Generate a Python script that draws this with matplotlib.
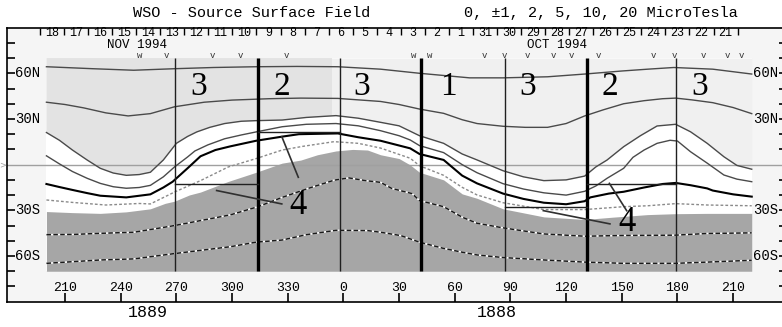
import numpy as np
import matplotlib
matplotlib.use("Agg")
import matplotlib.pyplot as plt
from matplotlib.patches import Rectangle

# ---------------------------
# data (longitude is continuous: 360 = 0)
# ---------------------------

# contour 1 (top)
c1_lon = [200, 225, 247, 269, 290, 313, 335, 357, 380, 401, 428, 446, 470, 490, 510, 524, 538, 559, 580]
c1_lat = [64.3, 63, 62, 63, 63.8, 64.3, 64.5, 64.3, 62.7, 60, 57, 57, 57.7, 59.5, 61.5, 62.7, 63.8, 62.7, 59.5]

# contour 2
c2_lon = [200, 210, 220, 232, 244, 256, 269, 285, 300, 320, 337, 357, 380, 390, 401, 414, 424, 432,
          446, 458, 470, 480, 490, 500, 511, 522, 532, 539, 548, 559, 570, 580]
c2_lat = [41, 39.5, 37.3, 34, 32, 33.5, 38, 41, 42.4, 43.3, 43.7, 43.5, 41.5, 39.5, 36.5, 33.7, 29.5, 27,
          25.2, 24.5, 24.5, 27, 32, 36, 40, 42, 43.3, 43.7, 42.5, 40.7, 37.5, 33.5]

# contour 3 (lower edge of the light area)
c3_lon = [200, 207, 214, 222, 229, 236, 243, 250, 256, 263, 270, 276, 281, 288, 296, 305, 313, 327,
          340, 356, 368, 380, 390, 401, 414, 424, 432, 446, 457, 468, 480, 490, 496, 502, 511, 520,
          529, 539, 547, 556, 565, 572, 580]
c3_lat = [21.1, 16, 9.6, 3, -2.4, -5.5, -7, -6.5, -5, 3.1, 14, 18.5, 21.5, 24.5, 27, 28.5, 28.9, 29.3,
          31, 32.2, 30.5, 27.8, 25.5, 19, 14, 7, 3.1, -4, -8, -10.5, -10, -7.5, -1.5, 3, 11.8, 19,
          25.4, 26.5, 21.6, 14, 5.2, -0.5, -3]

# contour 4
c4_lon = [200, 207, 214, 222, 229, 236, 243, 250, 256, 263, 269, 276, 280, 287, 296, 305, 313, 327,
          340, 356, 368, 380, 390, 396, 401, 414, 424, 432, 446, 457, 468, 480, 490, 496, 502, 511,
          516, 522, 529, 536, 540, 547, 556, 565, 572, 580]
c4_lat = [5.8, 0.5, -4.5, -9, -12.3, -14.5, -15.5, -15, -13.6, -8, -1.5, 5, 9, 13, 17, 19.5, 21.5, 24.9,
          26.5, 27, 25.5, 22.3, 19, 16.2, 12.5, 7.9, 0, -5.3, -12.5, -16, -18.5, -20, -17.5, -14, -9, -2.4,
          4.8, 9.6, 14, 16, 15.5, 8.5, 1, -6.8, -9.5, -11.2]

# neutral line (thick)
c5_lon = [200, 207, 214, 222, 229, 243, 256, 263, 268, 276, 283, 291, 299, 313, 327, 336, 357, 368,
          380, 396, 401, 414, 424, 432, 446, 457, 468, 480, 490, 493, 503, 511, 522, 532, 539, 547,
          556, 559, 570, 580]
c5_lat = [-12.7, -14.7, -16.6, -18.7, -20.4, -21.5, -19.5, -15, -11.2, -2.4, 5.5, 9.6, 12, 15.7, 18.4, 20,
          20.5, 18, 15.7, 10.7, 7, 3.1, -7.2, -12.3, -19, -22.5, -25, -26, -24, -21.5, -19, -17.8, -15,
          -12.7, -12, -13.5, -15.6, -17, -19.5, -21]

# contour 6 (dotted, in the white band)
c6_lon = [200, 214, 232, 250, 256, 269, 283, 298, 313, 327, 338, 355, 368, 380, 396, 401, 414, 424,
          432, 446, 468, 490, 511, 524, 539, 556, 580]
c6_lat = [-23.2, -24.8, -26.5, -25.5, -25.8, -18, -10.5, -1.5, 4, 9.6, 12, 15.1, 14, 10.9, 4.2, -0.7,
          -7, -14.9, -19.9, -25, -29.5, -29.5, -27.6, -27, -25.6, -26.5, -27]

# upper edge of the dark area
dk_lon = [200, 214, 229, 243, 256, 264, 269, 277, 283, 298, 313, 327, 337, 346, 356, 365, 373, 380,
          390, 396, 401, 414, 424, 432, 446, 468, 490, 505, 524, 539, 556, 580]
dk_lat = [-30.8, -31.5, -32, -31, -29, -25.4, -24, -19.9, -18, -11, -5, 1, 3, 6.5, 9, 10, 9.6, 6.5,
          4, -0.2, -5, -10, -19.2, -22.1, -29, -34.3, -36, -34.5, -32.8, -32.2, -32, -32]

# dashed contours inside the dark area
d1_lon = [200, 215, 229, 247, 269, 284, 299, 314, 327, 341, 355, 363, 372, 380, 386, 397, 401, 414,
          424, 432, 446, 468, 490, 511, 539, 556, 580]
d1_lat = [-46, -45.8, -45.1, -44.4, -40, -36.5, -33, -27.6, -21.5, -15.6, -10.2, -8.7, -10.5, -11.6,
          -15.6, -19, -23.6, -27.6, -34.5, -38.5, -41.5, -45.5, -47, -46.5, -46.3, -45.2, -44.8]
d2_lon = [200, 229, 247, 269, 299, 313, 327, 340, 356, 373, 380, 391, 401, 414, 424, 432, 446, 468,
          490, 511, 539, 556, 580]
d2_lat = [-64.8, -62.6, -61.9, -58.4, -53.9, -50.9, -49.5, -46, -43.1, -43.3, -44.4, -46.6, -50.9, -55,
          -57.5, -59.3, -61, -62.6, -64, -64.8, -64.8, -64, -62.8]

# sector boundaries
thin_lon = [269, 358, 447, 539]
thick_lon = [314, 402, 491]

# boxes: (lon0, lon1, lat)
box_lines = [(269, 314, -12.7), (314, 358, 21.2), (447, 491, -28), (491, 539, -12.7)]

# pointer lines to the "4" labels
pointers = [((291.7, -17), (326.8, -25.8)), ((326.8, 18.4), (335.7, -8.3)),
            ((467.7, -30.2), (503.6, -38.9)), ((503.3, -12.3), (512.6, -30.2))]

sector_lon = [282, 327, 370, 416.5, 459, 503.6, 552]
sector_txt = ["3", "2", "3", "1", "3", "2", "3"]
four_pos = [(335.5, -26.5), (512.8, -38.3)]

# day numbers along the top
days = ["18", "17", "16", "15", "14", "13", "12", "11", "10", "9", "8", "7", "6", "5", "4", "3",
        "2", "1", "31", "30", "29", "28", "27", "26", "25", "24", "23", "22", "21"]
day_lon0 = 203
day_step = 12.96
month_lon = [248.6, 474.9]
month_txt = ["NOV 1994", "OCT 1994"]

# marks above the map ('w' = double)
mark_lon = [250.4, 264.4, 289.2, 304.3, 329.1, 398, 406.7, 435.8, 446.5, 458.9, 472.9, 482.6,
            497.2, 526.8, 538.1, 553.8, 566.7, 574.2]
mark_txt = ["w", "v", "v", "v", "v", "w", "w", "v", "v", "v", "v", "v", "v", "v", "v", "v", "v", "v"]

lon_ticks = [210, 240, 270, 300, 330, 360, 390, 420, 450, 480, 510, 540, 570]
lon_labels = ["210", "240", "270", "300", "330", "0", "30", "60", "90", "120", "150", "180", "210"]
lat_ticks = [-80, -70, -60, -50, -40, -30, -20, -10, 10, 20, 30, 40, 50, 60, 70, 80]
lat_labels = {60: "60N", 30: "30N", -30: "30S", -60: "60S"}
rot_lon = [254.4, 442.5]
rot_txt = ["1889", "1888"]

mono = "Liberation Mono"
serif = "Liberation Serif"

# ---------------------------
# figure
# ---------------------------
fig = plt.figure(figsize=(7.82, 3.27), dpi=100)
ax = fig.add_axes([7 / 782, 25.3 / 327, 780 / 782, 274.1 / 327])
ax.set_xlim(178.75, 599)
ax.set_ylim(-90, 90)
ax.set_facecolor("#f5f5f5")
for s in ax.spines.values():
    s.set_linewidth(1.2)

# shading
ax.fill_between([200, 580], -70, 70, color="white", lw=0, zorder=1)
light = ax.fill_between(c3_lon, c3_lat, 70, color="#f0f0f0", lw=0, zorder=1.5)
rect = Rectangle((200, -70), 154, 140, color="#e3e3e3", lw=0, zorder=1.6)
ax.add_patch(rect)
rect.set_clip_path(light.get_paths()[0], ax.transData)
ax.fill_between(dk_lon, -70, dk_lat, color="#a6a6a6", lw=0, zorder=2)

# equator
ax.axhline(0, color="#a0a0a0", lw=1, zorder=2.5)
ax.text(178.2, 0, ">", color="#a0a0a0", fontsize=6, ha="right", va="center", clip_on=False)

# contours
for lo, la in [(c1_lon, c1_lat), (c2_lon, c2_lat), (c3_lon, c3_lat), (c4_lon, c4_lat)]:
    ax.plot(lo, la, color="#4a4a4a", lw=1.0, zorder=3)
ax.plot(c5_lon, c5_lat, color="black", lw=1.5, zorder=3)
ax.plot(c6_lon, c6_lat, color="#8a8a8a", lw=1.0, dashes=(2, 1.5), zorder=3)
for lo, la in [(d1_lon, d1_lat), (d2_lon, d2_lat)]:
    ax.plot(lo, la, color="white", lw=1.1, zorder=3)
    ax.plot(lo, la, color="#1a1a1a", lw=1.1, dashes=(3, 1.5), zorder=3.1)

# sector lines and boxes
ax.vlines(thin_lon, -70, 70, color="#202020", lw=1.0, zorder=4)
ax.vlines(thick_lon, -70, 70, color="black", lw=2.4, zorder=4)
for x0, x1, y in box_lines:
    ax.plot([x0, x1], [y, y], color="#202020", lw=1.0, zorder=4)
for (x0, y0), (x1, y1) in pointers:
    ax.plot([x0, x1], [y0, y1], color="#303030", lw=1.2, zorder=4)

for lo, t in zip(sector_lon, sector_txt):
    ax.text(lo, 51, t, fontsize=24, family=serif, ha="center", va="center", zorder=5)
for lo, la in four_pos:
    ax.text(lo, la, "4", fontsize=25, family=serif, ha="center", va="center", zorder=5)

# marks above the map
for lo, t in zip(mark_lon, mark_txt):
    ax.text(lo, 72, t, fontsize=6.5, family=mono, color="#333333", ha="center", va="center")

# day numbers and separators along the top
day_lon = [day_lon0 + i * day_step for i in range(len(days))]
for lo, d in zip(day_lon, days):
    ax.text(lo, 86.5, d, fontsize=8.5, family=mono, ha="center", va="center")
sep_lon = [day_lon0 + (i - 0.5) * day_step for i in range(len(days) + 1)]
for lo, t in zip(month_lon, month_txt):
    ax.text(lo, 78.6, t, fontsize=9, family=mono, ha="center", va="center")

# axes ticks
ax.set_yticks(lat_ticks)
ax.set_yticklabels([])
ax.tick_params(axis="y", which="both", direction="in", length=5.8, width=1.2, left=True, right=True)
ax.set_xticks(lon_ticks)
ax.set_xticklabels([])
ax.tick_params(axis="x", direction="in", length=6.3, width=1.2, bottom=True, top=False)
top = ax.secondary_xaxis("top")
top.set_xticks(sep_lon)
top.set_xticklabels([])
top.tick_params(direction="in", length=5, width=1)
top.spines["top"].set_visible(False)

for lo, t in zip(lon_ticks, lon_labels):
    ax.text(lo, -81, t, fontsize=9.5, family=mono, ha="center", va="center")
for la, t in lat_labels.items():
    ax.text(183, la, t, fontsize=10, family=mono, ha="left", va="center")
    ax.text(580.6, la, t, fontsize=10, family=mono, ha="left", va="center")

for lo, t in zip(rot_lon, rot_txt):
    ax.text(lo, -97.4, t, fontsize=12, family=mono, ha="center", va="center", clip_on=False)

fig.text(252 / 782, 1 - 13 / 327, "WSO - Source Surface Field", fontsize=11, family=mono,
         ha="center", va="center")
fig.text(601 / 782, 1 - 13 / 327, "0, \u00b11, 2, 5, 10, 20 MicroTesla", fontsize=11, family=mono,
         ha="center", va="center")

fig.savefig("out.png", dpi=100)
